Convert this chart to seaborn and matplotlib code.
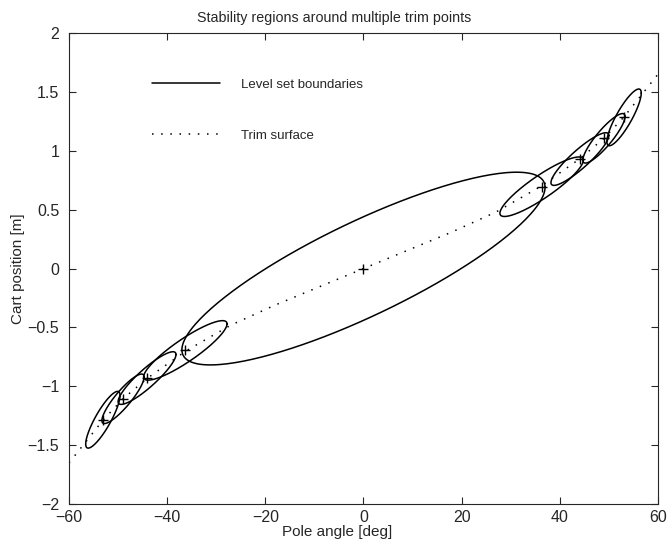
import numpy as np
import pandas as pd
import matplotlib
matplotlib.use("Agg")
import matplotlib.pyplot as plt
import seaborn as sns
from matplotlib.lines import Line2D

# trim surface
surf_angle = [-60, -53, -49, -44, -36, -27, -18, -9, 0, 9, 18, 27, 36, 44, 49, 53, 60]
surf_pos = [-1.65, -1.284, -1.106, -0.93, -0.695, -0.48, -0.31, -0.155, 0.0,
            0.155, 0.31, 0.48, 0.695, 0.93, 1.106, 1.284, 1.65]

# trim points (+ markers) = level set centres
trim_angle = [-53.1, -49.0, -44.1, -36.3, 0.0, 36.3, 44.1, 49.0, 53.1]
trim_pos = [-1.284, -1.106, -0.93, -0.695, 0.0, 0.695, 0.93, 1.106, 1.284]

# level set shape per trim point: half length [deg], tip rise [m], half thickness [m]
half_len = [3.5, 4.3, 5.9, 8.5, 37.0, 8.5, 5.9, 4.3, 3.5]
tip_rise = [0.206, 0.185, 0.20, 0.225, 0.69, 0.225, 0.20, 0.185, 0.206]
half_thick = [0.125, 0.10, 0.10, 0.115, 0.44, 0.115, 0.10, 0.10, 0.125]

tick_x = [-60, -40, -20, 0, 20, 40, 60]
tick_y = [-2, -1.5, -1, -0.5, 0, 0.5, 1, 1.5, 2]

sns.set_style("ticks")
plt.rcParams['font.family'] = ['Liberation Sans', 'DejaVu Sans']

rows = []
t = np.linspace(0, 2 * np.pi, 300)
for k in range(len(trim_angle)):
    xs = trim_angle[k] + half_len[k] * np.cos(t)
    ys = trim_pos[k] + tip_rise[k] * np.cos(t) + half_thick[k] * np.sin(t)
    for i in range(len(t)):
        rows.append((k, i, xs[i], ys[i]))
df_sets = pd.DataFrame(rows, columns=["set", "order", "angle", "pos"])
df_surf = pd.DataFrame({"angle": surf_angle, "pos": surf_pos})

fig, ax = plt.subplots(figsize=(6.7, 5.42), dpi=100)
fig.subplots_adjust(left=0.103, right=0.982, top=0.939, bottom=0.070)

sns.lineplot(data=df_surf, x="angle", y="pos", ax=ax, color="black",
             linewidth=1.1, sort=False, estimator=None)
ax.lines[-1].set_linestyle((0, (1, 5)))

sns.lineplot(data=df_sets, x="angle", y="pos", units="set", estimator=None,
             sort=False, ax=ax, color="black", linewidth=1.1)

sns.scatterplot(x=trim_angle, y=trim_pos, ax=ax, marker="+", color="black",
                s=60, linewidth=1.0)

ax.set_xlim(-60, 60)
ax.set_ylim(-2, 2)
ax.set_xticks(tick_x)
ax.set_yticks(tick_y)
ax.set_xticklabels([f"{v:g}".replace("-", "\u2212") for v in tick_x])
ax.set_yticklabels([f"{v:g}".replace("-", "\u2212") for v in tick_y])
ax.tick_params(direction="in", top=True, right=True, labelsize=11.5, length=5, width=0.8)
ax.tick_params(axis="y", pad=7)
ax.tick_params(axis="x", pad=4)
for s in ax.spines.values():
    s.set_linewidth(0.8)
    s.set_visible(True)

ax.set_title("Stability regions around multiple trim points", fontsize=10.3, pad=8, x=0.45)
ax.set_xlabel("Pole angle [deg]", fontsize=11, labelpad=0, x=0.455)
ax.set_ylabel("Cart position [m]", fontsize=11, labelpad=2)

handles = [Line2D([], [], color="black", linewidth=1.1),
           Line2D([], [], color="black", linewidth=1.1, linestyle=(0, (1, 5)))]
ax.legend(handles, ["Level set boundaries", "Trim surface"], loc="upper left",
          bbox_to_anchor=(0.12, 0.928), frameon=False, fontsize=9.5,
          handlelength=5.2, handletextpad=1.6, labelspacing=2.9)

fig.savefig("out.png", dpi=100)
